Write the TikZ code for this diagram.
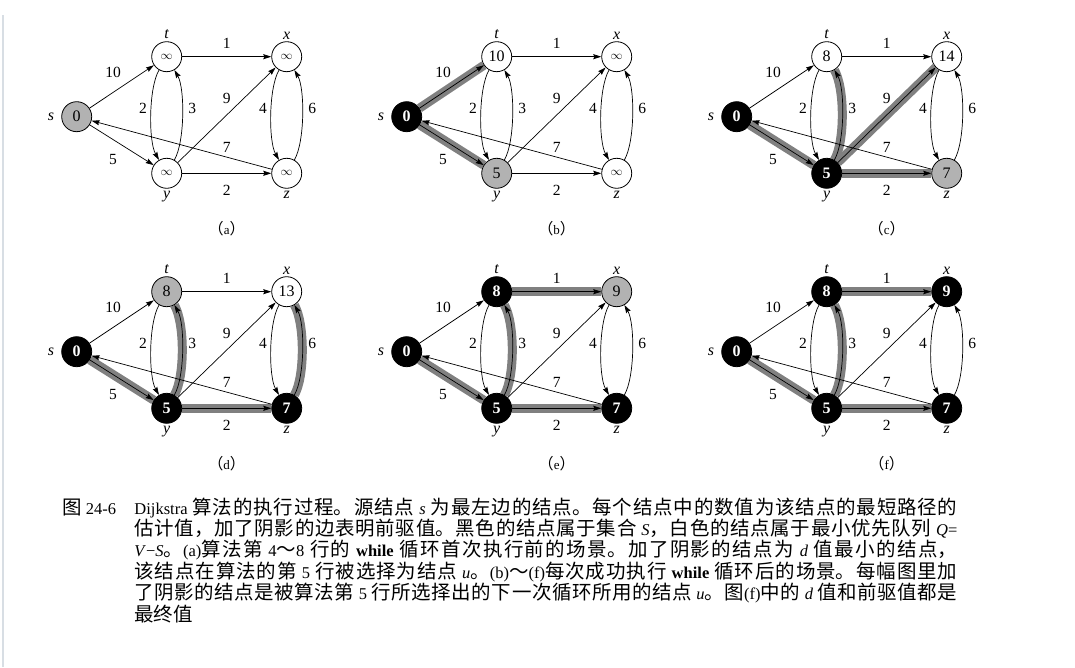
\documentclass[tikz,border=0pt]{standalone}
\usepackage{fontspec}
\usepackage{etoolbox}
\setmainfont{Liberation Serif}
\newfontfamily\cjk[Scale=1.18]{Noto Sans CJK SC}
\usetikzlibrary{arrows.meta,positioning,backgrounds}
\definecolor{chosenbg}{HTML}{B2B2B2}
\definecolor{treeband}{HTML}{808080}
\definecolor{edgebar}{HTML}{D8DEE4}
\XeTeXlinebreaklocale "zh"
\XeTeXlinebreakskip=0pt plus 2pt
\newcommand{\dinf}{{\fontsize{13}{13}\selectfont$\infty$}}

\begin{document}
\begin{tikzpicture}[x=1pt,y=1pt,
  vtx/.style={on grid,circle,draw,line width=0.8pt,minimum size=30pt,inner sep=0pt,
              font=\fontsize{16}{16}\selectfont},
  fresh/.style={fill=white},
  chosen/.style={fill=chosenbg},
  settled/.style={fill=black,text=white,font=\bfseries\fontsize{16}{16}\selectfont},
  vname/.style={font=\itshape\fontsize{16}{16}\selectfont,inner sep=1pt,label distance=1pt},
  wt/.style={font=\fontsize{15.5}{15.5}\selectfont,inner sep=1pt},
  dedge/.style={-{Stealth[length=8pt,width=5pt,inset=1pt]},line width=0.7pt},
  band/.style={line width=9pt,draw=treeband},
  straight/.style={},
  arcb/.style={bend right=30,looseness=0.6},
  panelcap/.style={font=\fontsize{13}{13}\selectfont}]
\useasboundingbox (0,0) rectangle (1075,667);
\draw[edgebar,line width=2pt] (3,0) -- (3,652);

\foreach \col/\row/\pl/\ks/\kt/\kx/\ky/\kz/\vt/\vx/\vy/\vz/\bands in {
  0/0/a/chosen/fresh/fresh/fresh/fresh/\dinf/\dinf/\dinf/\dinf/none,
  1/0/b/settled/fresh/fresh/chosen/fresh/10/\dinf/5/\dinf/{s/t/straight,s/y/straight},
  2/0/c/settled/fresh/fresh/settled/chosen/8/14/5/7/{s/y/straight,y/t/arcb,y/x/straight,y/z/straight},
  0/1/d/settled/chosen/fresh/settled/settled/8/13/5/7/{s/y/straight,y/t/arcb,y/z/straight,z/x/arcb},
  1/1/e/settled/settled/chosen/settled/settled/8/9/5/7/{s/y/straight,y/t/arcb,t/x/straight,y/z/straight},
  2/1/f/settled/settled/settled/settled/settled/8/9/5/7/{s/y/straight,y/t/arcb,t/x/straight,y/z/straight}}{
\begin{scope}[shift={(\col*330,-\row*235)}]
  \node[vtx,\ks,label={[vname,label distance=6pt]left:s}] (s) at (76.7,550.3) {0};
  \node[vtx,\kt,above right=60pt and 90pt of s,label={[vname]above:t}] (t) {\vt};
  \node[vtx,\ky,below right=56.6pt and 90pt of s,label={[vname]below:y}] (y) {\vy};
  \node[vtx,\kx,right=120pt of t,label={[vname]above:x}] (x) {\vx};
  \node[vtx,\kz,right=120pt of y,label={[vname]below:z}] (z) {\vz};
  \node[panelcap] (cap) at (226.7,438.3) {{\cjk （}\pl{\cjk ）}};

  \ifdefstring{\bands}{none}{}{%
  \begin{pgfonlayer}{background}
    \foreach \a/\b/\k in \bands {\draw[band,\k] (\a) to (\b);}
  \end{pgfonlayer}}

  \draw[dedge] (s) to node[wt,shift={(-8.7,14.2)}] {10} (t);
  \draw[dedge] (s) to node[wt,shift={(-8.7,-15)}] {5} (y);
  \draw[dedge] (t) to node[wt,shift={(0,13.7)}] {1} (x);
  \draw[dedge] (t) to[arcb] node[wt,shift={(-8,7)}] {2} (y);
  \draw[dedge] (y) to[arcb] node[wt,shift={(10,7)}] {3} (t);
  \draw[dedge] (y) to node[wt,shift={(0,17)}] {9} (x);
  \draw[dedge] (y) to node[wt,shift={(0,-16.7)}] {2} (z);
  \draw[dedge] (x) to[arcb] node[wt,shift={(-8,7)}] {4} (z);
  \draw[dedge] (z) to[arcb] node[wt,shift={(10,7)}] {6} (x);
  \draw[dedge] (z) to node[wt,pos=0.25,shift={(0,10)}] {7} (s);
\end{scope}
}

\node[anchor=base west,inner sep=0pt,font=\fontsize{16.5}{21.4}\selectfont] (fignum)
  at (62,153) {{\cjk 图} 24-6};
\node[base right=18pt of fignum,anchor=base west,inner sep=0pt,text width=823pt,
      align=justify,font=\fontsize{16.5}{21.4}\selectfont] (figtext)
  {\tolerance=10000
   Dijkstra {\cjk 算法的执行过程。源结点} \textit{s} {\cjk 为最左边的结点。每个结点中的数值为该结点的最短路径的}\linebreak
   {\cjk 估计值，加了阴影的边表明前驱值。黑色的结点属于集合} \textit{S}{\cjk ，白色的结点属于最小优先队列} \textit{Q}=\linebreak
   \textit{V}−\textit{S}{\cjk 。}(a){\cjk 算法第} 4{\cjk ～}8 {\cjk 行的} \textbf{while} {\cjk 循环首次执行前的场景。加了阴影的结点为} \textit{d} {\cjk 值最小的结点，}\linebreak
   {\cjk 该结点在算法的第} 5 {\cjk 行被选择为结点} \textit{u}{\cjk 。}(b){\cjk ～}(f){\cjk 每次成功执行} \textbf{while} {\cjk 循环后的场景。每幅图里加}\linebreak
   {\cjk 了阴影的结点是被算法第} 5 {\cjk 行所选择出的下一次循环所用的结点} \textit{u}{\cjk 。图}(f){\cjk 中的} \textit{d} {\cjk 值和前驱值都是}\linebreak
   {\cjk 最终值}};
\end{tikzpicture}
\end{document}
